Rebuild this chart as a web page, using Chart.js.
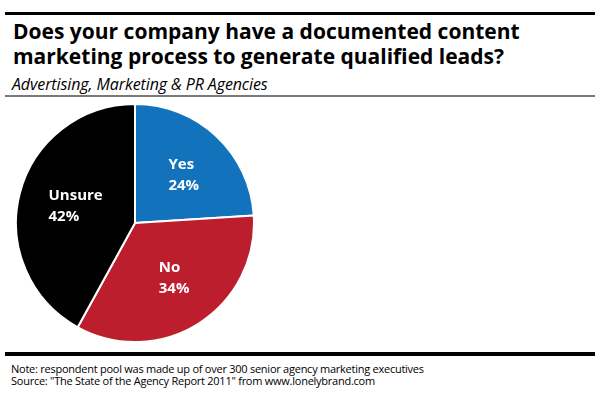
<!DOCTYPE html>
<html>
<head>
<meta charset="utf-8">
<script src="https://cdn.jsdelivr.net/npm/chart.js@4"></script>
<style>
  html, body { margin: 0; padding: 0; background: #fff; }
  body { width: 600px; height: 393px; position: relative; overflow: hidden; font-family: 'Open Sans', sans-serif; }
  .rule { position: absolute; left: 5px; width: 590px; background: #000; }
  #title { position: absolute; left: 13px; top: 19px; font-weight: 700; font-size: 21px; line-height: 25px; color: #000; white-space: nowrap; }
  #subtitle { position: absolute; left: 12px; top: 74px; font-style: italic; font-size: 16px; line-height: 20px; color: #000; letter-spacing: -0.1px; white-space: nowrap; }
  .note { position: absolute; left: 11px; font-size: 11px; line-height: 14px; color: #000; letter-spacing: -0.25px; white-space: nowrap; }
  #pie-wrap { position: absolute; left: 15px; top: 103px; width: 240px; height: 240px; }
</style>
</head>
<body>
<div class="rule" style="top:12px;height:3px"></div>
<div id="title">Does your company have a documented content<br>marketing process to generate qualified leads?</div>
<div id="subtitle">Advertising, Marketing &amp; PR Agencies</div>
<div class="rule" style="top:95px;height:2px;background:#7a7a7a"></div>
<div id="pie-wrap"><canvas id="pie"></canvas></div>
<div class="rule" style="top:352px;height:4px"></div>
<div class="note" style="top:362px">Note: respondent pool was made up of over 300 senior agency marketing executives</div>
<div class="note" style="top:374px">Source: "The State of the Agency Report 2011" from www.lonelybrand.com</div>
<script>
const categories = ['Yes', 'No', 'Unsure'];
const shares = [24, 34, 42];
const sliceColors = ['#1273bc', '#bd1e2d', '#000000'];

// white two-line labels inside each slice, left aligned
const sliceLabels = {
  id: 'sliceLabels',
  afterDatasetsDraw(chart) {
    const ctx = chart.ctx;
    const meta = chart.getDatasetMeta(0);
    ctx.save();
    ctx.fillStyle = '#fff';
    ctx.font = 'bold 15px "Open Sans", sans-serif';
    ctx.textBaseline = 'middle';
    ctx.textAlign = 'left';
    meta.data.forEach((arc, i) => {
      const { x: cx, y: cy, startAngle, endAngle, outerRadius } =
        arc.getProps(['x', 'y', 'startAngle', 'endAngle', 'outerRadius'], true);
      const mid = (startAngle + endAngle) / 2;
      const r = outerRadius * 0.55;
      const x = cx + Math.cos(mid) * r;
      const y = cy + Math.sin(mid) * r;
      const lines = [categories[i], shares[i] + '%'];
      const w = Math.max(...lines.map((l) => ctx.measureText(l).width));
      const left = x - w / 2 + 4;
      ctx.fillText(lines[0], left, y - 10.5);
      ctx.fillText(lines[1], left, y + 10.5);
    });
    ctx.restore();
  },
};

new Chart(document.getElementById('pie'), {
  type: 'pie',
  data: {
    labels: categories,
    datasets: [{
      data: shares,
      backgroundColor: sliceColors,
      borderColor: '#fff',
      borderWidth: 2,
    }],
  },
  options: {
    responsive: true,
    maintainAspectRatio: false,
    animation: false,
    layout: { padding: 0 },
    plugins: {
      legend: { display: false },
      tooltip: { enabled: false },
    },
  },
  plugins: [sliceLabels],
});
</script>
</body>
</html>
